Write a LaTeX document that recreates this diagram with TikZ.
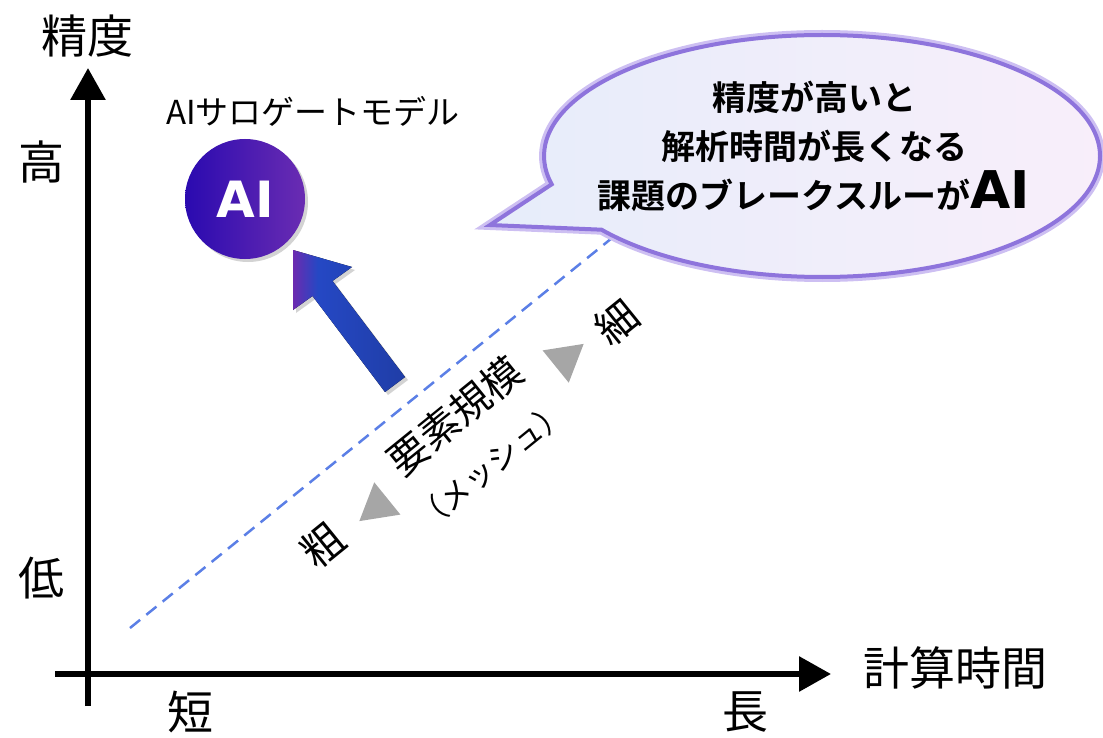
\documentclass[tikz,border=0pt]{standalone}
\usepackage{fontspec}
\setmainfont{Noto Sans CJK JP}[BoldFont={Noto Sans CJK JP Bold}]
\newfontfamily\vfont{DejaVu Sans}
\usepackage{tikz}
\usetikzlibrary{arrows.meta,shapes.geometric,shapes.callouts,shadows}
\definecolor{dashblue}{HTML}{5B7FE6}
\definecolor{tribgray}{HTML}{A6A6A6}
\definecolor{bubline}{HTML}{8E74DC}
\definecolor{bubglow}{HTML}{CDBFF2}
\definecolor{bubleft}{HTML}{E6EDFA}
\definecolor{bubright}{HTML}{F8EEFA}
\definecolor{aipurple}{HTML}{6A2CB2}
\definecolor{aiblue}{HTML}{2A0AB0}
\definecolor{arrpurple}{HTML}{6C2AB0}
\definecolor{arrblue}{HTML}{2548C4}
\pgfdeclarehorizontalshading{arrowshade}{100bp}{color(0bp)=(arrpurple); color(25bp)=(arrpurple); color(36bp)=(arrblue); color(75bp)=(arrblue!85!black); color(100bp)=(arrblue!85!black)}

\begin{document}
\begin{tikzpicture}[x=1pt,y=-1pt,
  axis/.style={line width=6pt,-{Triangle[length=32pt,width=34pt]}},
  biglabel/.style={font=\fontsize{46}{48}\selectfont,inner sep=0pt},
  meshlabel/.style={rotate=39,inner sep=0pt},
  meshtri/.style={regular polygon,regular polygon sides=3,fill=tribgray,minimum size=48pt,inner sep=0pt}]
\useasboundingbox (0,0) rectangle (1103,738);

\coordinate (ybot) at (88,706);
\coordinate (ytop) at (88,68);
\coordinate (xleft) at (55,674);
\coordinate (xright) at (831,674);
\draw[axis] (ybot) -- (ytop);
\draw[axis] (xleft) -- (xright);

\node[biglabel] (acc) at (87,36) {精度};
\node[biglabel] (high) at (42,162) {高};
\node[biglabel] (low) at (42,578) {低};
\node[biglabel] (short) at (190,712) {短};
\node[biglabel] (long) at (745,712) {長};
\node[biglabel] (ctime) at (955,668) {計算時間};

\coordinate (dlo) at (130,628);
\coordinate (dhi) at (612,238);
\draw[dashblue,line width=2.5pt,dash pattern=on 13pt off 8pt] (dlo) -- (dhi);

\node[font=\fontsize{33}{35}\selectfont,inner sep=0pt] (sur) at (313,111) {AIサロゲートモデル};
\node[circle,minimum size=120pt,shading=axis,shading angle=45,
  left color=aiblue,right color=aipurple,
  drop shadow={opacity=0.35,shadow xshift=3pt,shadow yshift=-3pt},
  text=white,font=\vfont\bfseries\fontsize{50}{50}\selectfont] (ai) at (245,199) {AI};

\fill[shading=arrowshade,
  drop shadow={opacity=0.35,shadow xshift=3pt,shadow yshift=-3pt}]
  (385,392) -- (312.5,296) -- (293,310) -- (293,250) -- (352,267) -- (332.5,281) -- (405,377) -- cycle;

\node[meshlabel,font=\fontsize{42}{44}\selectfont] (coarse) at (323,545) {粗};
\node[meshtri,rotate=129] (tlo) at (378,506) {};
\node[meshlabel,font=\fontsize{40}{42}\selectfont] (scale) at (455,416) {要素規模};
\node[meshlabel,font=\fontsize{31}{33}\selectfont] (mesh) at (491,465) {（メッシュ）};
\node[meshtri,rotate=-51] (thi) at (565,359) {};
\node[meshlabel,font=\fontsize{42}{44}\selectfont] (fine) at (617,322) {細};

\node[ellipse callout,minimum width=556pt,minimum height=242pt,
  callout absolute pointer={(490,225)},callout pointer arc=24,
  left color=bubleft,right color=bubright,draw=bubline,line width=4pt,
  preaction={draw=bubglow,line width=10pt}] (bubble) at (822,156) {};
\node[align=center,font=\bfseries\fontsize{34}{49}\selectfont] (msg) at (814,146)
  {精度が高いと\\解析時間が長くなる\\課題のブレークスルーが{\vfont\fontsize{52}{49}\selectfont AI}};
\end{tikzpicture}
\end{document}
